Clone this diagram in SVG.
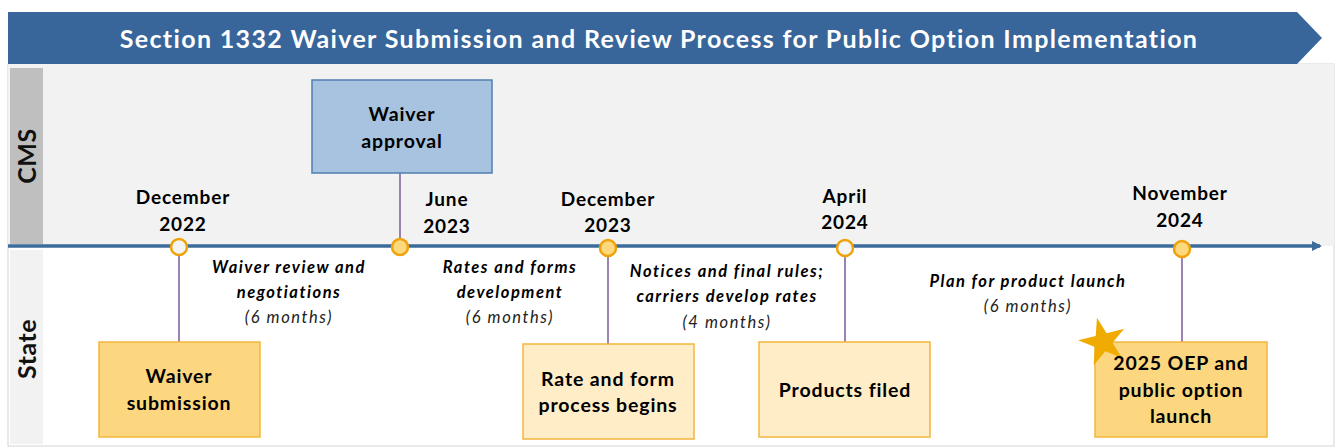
<svg xmlns="http://www.w3.org/2000/svg" width="1336" height="448" viewBox="0 0 1336 448">
<style>
.t{font-family:Lato,"Liberation Sans",sans-serif;font-weight:bold;fill:#000;text-anchor:middle;letter-spacing:0.85px}
.date{font-size:19px}
.box{font-size:19.5px}
.dur{font-family:Lato,"Liberation Sans",sans-serif;font-style:italic;font-weight:bold;font-size:16.5px;text-anchor:middle;fill:#000;letter-spacing:1.5px}
.mo{font-family:Lato,"Liberation Sans",sans-serif;font-style:italic;font-size:16.5px;text-anchor:middle;fill:#222;letter-spacing:1.6px}
.lane{font-family:Lato,"Liberation Sans",sans-serif;font-weight:bold;font-size:25px;text-anchor:middle;fill:#111;letter-spacing:0.5px}
.ybox{fill:#fdd780;stroke:#f3b63c;stroke-width:1.5}
.lbox{fill:#ffedc8;stroke:#f3b63c;stroke-width:1.5}
.bbox{fill:#a8c3df;stroke:#4f7fb3;stroke-width:1.5}
.stem{stroke:#8064a2;stroke-width:1.6}
.ms{stroke:#efa309;stroke-width:2.5}
.full{fill:#fed87c}
.empty{fill:#f4f4f4}
</style>
<defs>
<marker id="ah" markerWidth="10" markerHeight="10" refX="8" refY="5" orient="auto" markerUnits="userSpaceOnUse">
<path d="M0,0 L10,5 L0,10 Z" fill="#3d6b9c"/>
</marker>
</defs>
<g id="frame">
<rect x="8" y="64" width="1326" height="382" fill="#fff" stroke="#d4d4d4"/>
<rect x="8" y="64" width="1326" height="182" fill="#f2f2f2"/>
<rect x="10" y="68" width="33" height="176" fill="#bfbfbf"/>
<rect x="10" y="250" width="33" height="194" fill="#f2f2f2"/>
<text class="lane" transform="translate(36,156) rotate(-90)">CMS</text>
<text class="lane" transform="translate(36,349) rotate(-90)">State</text>
</g>
<g id="title">
<polygon points="8,12 1297,12 1322,38 1297,64 8,64" fill="#38659a"/>
<text x="659" y="48" font-family="Lato,'Liberation Sans',sans-serif" font-weight="bold" font-size="25" fill="#fff" text-anchor="middle" letter-spacing="1.35">Section 1332 Waiver Submission and Review Process for Public Option Implementation</text>
</g>
<g id="connectors">
<line x1="8" y1="246" x2="1320" y2="246" stroke="#3d6b9c" stroke-width="3.5" marker-end="url(#ah)"/>
<line class="stem" x1="179" y1="248" x2="179" y2="342"/>
<line class="stem" x1="400" y1="173" x2="400" y2="246"/>
<line class="stem" x1="608" y1="248" x2="608" y2="344"/>
<line class="stem" x1="845" y1="248" x2="845" y2="342"/>
<line class="stem" x1="1182" y1="248" x2="1182" y2="342"/>
</g>
<g id="m-dec2022">
<circle class="ms empty" cx="179" cy="247" r="8"/>
<text class="t date" x="183" y="204">December</text>
<text class="t date" x="183" y="231">2022</text>
</g>
<g id="m-jun2023">
<circle class="ms full" cx="400" cy="247" r="8"/>
<text class="t date" x="447" y="206">June</text>
<text class="t date" x="447" y="233">2023</text>
</g>
<g id="m-dec2023">
<circle class="ms full" cx="608" cy="248" r="8"/>
<text class="t date" x="608" y="206">December</text>
<text class="t date" x="608" y="232">2023</text>
</g>
<g id="m-apr2024">
<circle class="ms empty" cx="845" cy="248" r="8"/>
<text class="t date" x="845" y="203">April</text>
<text class="t date" x="845" y="229">2024</text>
</g>
<g id="m-nov2024">
<circle class="ms full" cx="1182" cy="249" r="8"/>
<text class="t date" x="1180" y="200">November</text>
<text class="t date" x="1180" y="227">2024</text>
</g>
<g id="n-approval">
<rect class="bbox" x="312" y="80" width="180" height="93"/>
<text class="t box" x="402" y="121">Waiver</text>
<text class="t box" x="402" y="148">approval</text>
</g>
<g id="n-submission">
<rect class="ybox" x="99" y="342" width="161" height="95"/>
<text class="t box" x="179" y="383">Waiver</text>
<text class="t box" x="179" y="410">submission</text>
</g>
<g id="n-rateform">
<rect class="lbox" x="523" y="344" width="171" height="95"/>
<text class="t box" x="608" y="386">Rate and form</text>
<text class="t box" x="608" y="412">process begins</text>
</g>
<g id="n-filed">
<rect class="lbox" x="759" y="342" width="171" height="95"/>
<text class="t box" x="845" y="397">Products filed</text>
</g>
<g id="n-launch">
<rect class="ybox" x="1095" y="342" width="172" height="95"/>
<polygon points="1096.95,317.74 1106.56,333.19 1124.2,328.75 1112.48,342.66 1122.15,358.07 1105.3,351.22 1093.64,365.18 1094.94,347.03 1078.06,340.26 1095.72,335.89" fill="#f0ab00"/>
<text class="t box" x="1181" y="370">2025 OEP and</text>
<text class="t box" x="1181" y="397">public option</text>
<text class="t box" x="1181" y="423">launch</text>
</g>
<g id="d-review">
<text class="dur" x="289" y="273">Waiver review and</text>
<text class="dur" x="289" y="298">negotiations</text>
<text class="mo" x="289" y="323">(6 months)</text>
</g>
<g id="d-rates">
<text class="dur" x="510" y="273">Rates and forms</text>
<text class="dur" x="510" y="298">development</text>
<text class="mo" x="510" y="323">(6 months)</text>
</g>
<g id="d-notices">
<text class="dur" x="727" y="277">Notices and final rules;</text>
<text class="dur" x="727" y="302">carriers develop rates</text>
<text class="mo" x="727" y="328">(4 months)</text>
</g>
<g id="d-plan">
<text class="dur" x="1028" y="287">Plan for product launch</text>
<text class="mo" x="1028" y="312">(6 months)</text>
</g>
</svg>
